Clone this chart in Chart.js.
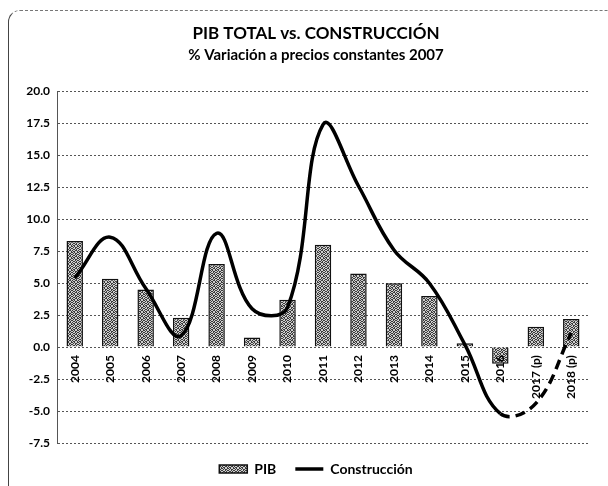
<!DOCTYPE html>
<html>
<head>
<meta charset="utf-8">
<script src="https://cdn.jsdelivr.net/npm/chart.js@4.4.0/dist/chart.umd.min.js"></script>
<style>
html, body { margin: 0; padding: 0; background: #fff; }
#wrap { position: relative; width: 608px; height: 486px; overflow: hidden; }
#frame { position: absolute; left: 8px; top: 10px; width: 700px; height: 600px;
  border-top: 1px dashed #777; border-left: 1px solid #444; border-top-left-radius: 12px; }
#chart { position: absolute; left: 0; top: 0; }
</style>
</head>
<body>
<div id="wrap">
  <div id="frame"></div>
  <canvas id="chart" width="608" height="486"></canvas>
</div>
<script>
// categories and values
const years = ["2004", "2005", "2006", "2007", "2008", "2009", "2010", "2011",
               "2012", "2013", "2014", "2015", "2016", "2017 (p)", "2018 (p)"];
const pib = [8.3, 5.35, 4.5, 2.3, 6.5, 0.75, 3.7, 8.0, 5.75, 5.0, 4.0, 0.3, -1.3, 1.6, 2.2];
const construccion = [5.4, 8.6, 4.6, 0.9, 8.9, 3.0, 3.1, 17.4, 12.6, 7.6, 5.0, 0.2, -5.2, -4.4, 1.1];
const firstProjected = 12; // line turns dashed from 2016 on

// speckled grey fill for the bars
const pat = document.createElement("canvas");
pat.width = 6; pat.height = 6;
const pctx = pat.getContext("2d");
pctx.fillStyle = "#cfcfcf";
pctx.fillRect(0, 0, 6, 6);
pctx.fillStyle = "#3c3c3c";
const dots = ["101001", "010110", "100101", "011010", "100110", "011001"];
dots.forEach((row, y) => {
  for (let x = 0; x < row.length; x++) {
    if (row[x] === "1") pctx.fillRect(x, y, 1, 1);
  }
});
const speckle = pctx.createPattern(pat, "repeat");

const font = "Lato";

new Chart(document.getElementById("chart"), {
  data: {
    labels: years,
    datasets: [{
      type: "bar",
      label: "PIB",
      data: pib,
      backgroundColor: speckle,
      borderColor: "#111",
      borderWidth: 1.5,
      barPercentage: 0.58,
      categoryPercentage: 0.8,
      pointStyle: "rect",
      order: 1
    }, {
      type: "line",
      label: "Construcción",
      data: construccion,
      borderColor: "#000",
      backgroundColor: "#000",
      borderWidth: 3.5,
      tension: 0.4,
      pointRadius: 0,
      pointStyle: "line",
      fill: false,
      order: 0,
      segment: {
        borderDash: ctx => ctx.p0DataIndex >= firstProjected ? [10, 6] : undefined
      }
    }]
  },
  options: {
    responsive: false,
    animation: false,
    layout: { padding: { left: 24, right: 0, top: 0, bottom: 0 } },
    plugins: {
      title: {
        display: true,
        text: "PIB TOTAL vs. CONSTRUCCIÓN",
        color: "#000",
        font: { family: font, size: 17, weight: "bold" },
        padding: { top: 23, bottom: 2 }
      },
      subtitle: {
        display: true,
        text: "% Variación a precios constantes 2007",
        color: "#000",
        font: { family: font, size: 15, weight: "bold" },
        padding: { top: 1, bottom: 27 }
      },
      legend: {
        position: "bottom",
        labels: {
          usePointStyle: true,
          pointStyleWidth: 28,
          boxHeight: 8,
          padding: 19,
          color: "#000",
          font: { family: font, size: 14, weight: "bold" },
          sort: (a, b) => a.datasetIndex - b.datasetIndex
        }
      },
      tooltip: { enabled: false }
    },
    scales: {
      x: {
        position: { y: 0 },
        offset: true,
        grid: { display: false, drawTicks: false },
        border: { display: false },
        ticks: {
          z: 1,
          color: "#000",
          font: { family: font, size: 12, weight: "bold" },
          minRotation: 90,
          maxRotation: 90,
          autoSkip: false,
          padding: 8
        }
      },
      y: {
        min: -7.5,
        max: 20,
        afterFit: s => { s.width = 33; },
        grid: { color: "#555", lineWidth: 1, drawTicks: false },
        border: { display: true, color: "#555", dash: [2, 2] },
        ticks: {
          stepSize: 2.5,
          color: "#000",
          padding: 7,
          font: { family: font, size: 12, weight: "bold" },
          callback: v => v.toFixed(1)
        }
      },
      y2: {
        position: "right",
        display: true,
        afterFit: s => { s.width = 19; },
        grid: { display: false, drawTicks: false },
        border: { display: false },
        ticks: { display: false }
      }
    }
  },
  plugins: [{
    id: "dottedGrid",
    beforeDraw(chart) {
      chart.scales.y.options.grid.borderDash = [2, 2];
    }
  }]
});
</script>
</body>
</html>
